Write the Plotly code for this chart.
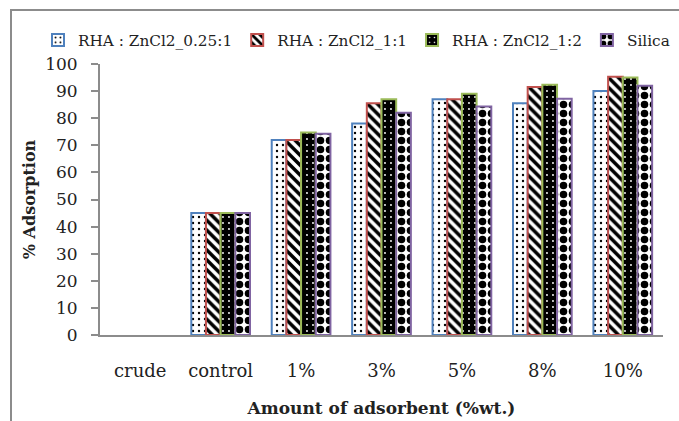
import plotly.graph_objects as go

categories = ["crude", "control", "1%", "3%", "5%", "8%", "10%"]
series_names = ["RHA : ZnCl2_0.25:1", "RHA : ZnCl2_1:1", "RHA : ZnCl2_1:2", "Silica"]
rha_025 = [None, 45, 72, 78, 87, 85.5, 90]
rha_1_1 = [None, 45, 72, 85.5, 87, 91.5, 95.3]
rha_1_2 = [None, 45, 74.7, 87, 89, 92.3, 95]
silica = [None, 45, 74.3, 82, 84.3, 87.2, 92]
y_ticks = [0, 10, 20, 30, 40, 50, 60, 70, 80, 90, 100]

edge_colors = ["#4F81BD", "#C0504D", "#9BBB59", "#8064A2"]
patterns = [
    dict(shape=".", bgcolor="white", fgcolor="black", size=6, solidity=0.12, fillmode="replace"),
    dict(shape="\\", bgcolor="white", fgcolor="black", size=7, solidity=0.5, fillmode="replace"),
    dict(shape=".", bgcolor="black", fgcolor="white", size=6, solidity=0.08, fillmode="replace"),
    dict(shape=".", bgcolor="white", fgcolor="black", size=9, solidity=0.55, fillmode="replace"),
]

W, H = 679, 421
L, R, T, B = 100, 16, 64, 86
pw, ph = W - L - R, H - T - B

fig = go.Figure()
for name, vals, col, pat in zip(series_names, [rha_025, rha_1_1, rha_1_2, silica], edge_colors, patterns):
    fig.add_trace(go.Bar(
        x=categories, y=vals, name=name,
        marker=dict(color="white", line=dict(color=col, width=2), pattern=pat),
    ))

def px_x(p):
    return (p - L) / pw

def px_y(p):
    return (H - B - p) / ph

gray = "#8c8c8c"
fig.add_shape(type="rect", xref="paper", yref="paper",
              x0=px_x(11), x1=px_x(900), y0=px_y(10), y1=px_y(700),
              line=dict(color=gray, width=2), fillcolor="rgba(0,0,0,0)", layer="below")

fig.update_layout(
    width=W, height=H,
    margin=dict(l=L, r=R, t=T, b=B, autoexpand=False),
    paper_bgcolor="white", plot_bgcolor="white",
    barmode="group", bargap=0.27, bargroupgap=0,
    font=dict(family="DejaVu Serif", color="#222222"),
    legend=dict(orientation="h", x=px_x(38), y=px_y(40), xanchor="left", yanchor="middle",
                font=dict(family="DejaVu Serif", size=15.3, color="#222222"),
                bgcolor="rgba(0,0,0,0)", itemwidth=30, tracegroupgap=0),
    xaxis=dict(
        type="category", showline=True, linecolor=gray, linewidth=2, automargin=False,
        ticks="", tickfont=dict(size=18, family="DejaVu Serif"), ticklabelstandoff=18,
        title=dict(text="<b>Amount of adsorbent (%wt.)</b>", font=dict(size=17, family="DejaVu Serif"), standoff=23),
        showgrid=False, zeroline=False,
    ),
    yaxis=dict(
        range=[0, 100], tickvals=y_ticks, showline=True, linecolor=gray, linewidth=2, automargin=False,
        ticks="outside", ticklen=7, tickcolor=gray, tickwidth=2, ticklabelstandoff=10,
        tickfont=dict(size=17, family="DejaVu Serif"),
        title=dict(text="<b>% Adsorption</b>", font=dict(size=16, family="DejaVu Serif"), standoff=6),
        showgrid=False, zeroline=False,
    ),
)

fig.write_html("out.html", config={"displayModeBar": False},
               post_script="document.body.style.margin='0';document.body.style.overflow='hidden';")
